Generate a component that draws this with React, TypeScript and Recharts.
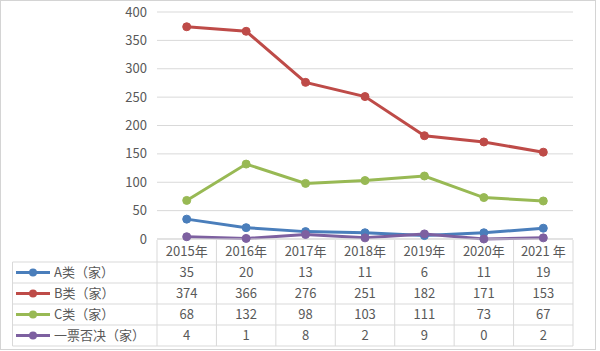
import React from 'react';
import { LineChart, Line, XAxis, YAxis, CartesianGrid } from 'recharts';

const categories = ['2015年', '2016年', '2017年', '2018年', '2019年', '2020年', '2021 年'];
const seriesNames = ['A类（家）', 'B类（家）', 'C类（家）', '一票否决（家）'];
const seriesA = [35, 20, 13, 11, 6, 11, 19];
const seriesB = [374, 366, 276, 251, 182, 171, 153];
const seriesC = [68, 132, 98, 103, 111, 73, 67];
const seriesD = [4, 1, 8, 2, 9, 0, 2];
const yTicks = [0, 50, 100, 150, 200, 250, 300, 350, 400];

const colors = ['#4a7ebb', '#be4b48', '#98b954', '#7d60a0'];
const keys = ['a', 'b', 'c', 'd'];
const allSeries = [seriesA, seriesB, seriesC, seriesD];

const data = categories.map((cat, i) => ({
  name: cat,
  a: seriesA[i],
  b: seriesB[i],
  c: seriesC[i],
  d: seriesD[i],
}));

const W = 600;
const H = 351;
const PLOT_LEFT = 157;
const PLOT_RIGHT = 573;
const PLOT_TOP = 12;
const PLOT_BOTTOM = 239;
const BAND = (PLOT_RIGHT - PLOT_LEFT) / categories.length;
const ROW_TOP = PLOT_BOTTOM + 1;
const HEADER_BOTTOM = 262;
const ROW_H = 21;
const TABLE_BOTTOM = HEADER_BOTTOM + ROW_H * 4;
const TABLE_LEFT = 12.5;
const GRID = '#d9d9d9';
const TXT = '#595959';
const FONT = '"Noto Sans CJK SC", "Noto Sans", sans-serif';

const TableTick = (props: any) => {
  const { x, payload } = props;
  const idx = payload?.index ?? props.index ?? 0;
  const right = x + BAND / 2;
  return (
    <g>
      {idx === 0 && (
        <g>
          <line x1={PLOT_LEFT} x2={PLOT_LEFT} y1={ROW_TOP} y2={TABLE_BOTTOM} stroke={GRID} />
          <line x1={TABLE_LEFT} x2={TABLE_LEFT} y1={HEADER_BOTTOM} y2={TABLE_BOTTOM} stroke={GRID} />
          {[0, 1, 2, 3, 4].map((r) => (
            <line
              key={r}
              x1={TABLE_LEFT}
              x2={PLOT_RIGHT}
              y1={HEADER_BOTTOM + r * ROW_H}
              y2={HEADER_BOTTOM + r * ROW_H}
              stroke={GRID}
            />
          ))}
          {seriesNames.map((n, r) => {
            const cy = HEADER_BOTTOM + r * ROW_H + ROW_H / 2;
            return (
              <g key={n}>
                <line x1={16} x2={50} y1={cy} y2={cy} stroke={colors[r]} strokeWidth={3} />
                <circle cx={33} cy={cy} r={4} fill={colors[r]} />
                <text x={54} y={cy} dy="0.36em" fontSize={13} fill={TXT} fontFamily={FONT} textAnchor="start">
                  {n}
                </text>
              </g>
            );
          })}
        </g>
      )}
      <line x1={right} x2={right} y1={ROW_TOP} y2={TABLE_BOTTOM} stroke={GRID} />
      <text
        x={x}
        y={(ROW_TOP + HEADER_BOTTOM) / 2}
        dy="0.36em"
        textAnchor="middle"
        fontSize={13}
        fill={TXT}
        fontFamily={FONT}
      >
        {payload.value}
      </text>
      {allSeries.map((s, r) => (
        <text
          key={r}
          x={x}
          y={HEADER_BOTTOM + r * ROW_H + ROW_H / 2}
          dy="0.36em"
          textAnchor="middle"
          fontSize={13}
          fill={TXT}
          fontFamily={FONT}
        >
          {s[idx]}
        </text>
      ))}
    </g>
  );
};

export default function App() {
  return (
    <div style={{ position: 'absolute', left: 0, top: 0, width: W, height: H, background: '#fff' }}>
      <svg width={W} height={H} style={{ position: 'absolute', left: 0, top: 0 }}>
        <rect x={0.5} y={0.5} width={595} height={349} fill="#fff" stroke="#d4d4d4" />
      </svg>
      <div style={{ position: 'absolute', left: 0, top: 0 }}>
        <LineChart
          width={W}
          height={H}
          data={data}
          margin={{ top: PLOT_TOP, right: W - PLOT_RIGHT, bottom: 0, left: 0 }}
        >
          <CartesianGrid vertical={false} stroke={GRID} strokeWidth={1} />
          <XAxis
            dataKey="name"
            axisLine={{ stroke: GRID }}
            tickLine={false}
            tickSize={0}
            tickMargin={0}
            interval={0}
            padding={{ left: BAND / 2, right: BAND / 2 }}
            height={H - PLOT_BOTTOM}
            tick={<TableTick />}
          />
          <YAxis
            width={PLOT_LEFT}
            domain={[0, 400]}
            ticks={yTicks}
            interval={0}
            axisLine={false}
            tickLine={false}
            tickSize={0}
            tickMargin={10}
            tick={{ fontSize: 13, fill: TXT, fontFamily: FONT }}
          />
          {keys.map((k, i) => (
            <Line
              key={k}
              dataKey={k}
              name={seriesNames[i]}
              stroke={colors[i]}
              strokeWidth={3}
              dot={{ r: 4, fill: colors[i], stroke: colors[i], strokeWidth: 1 }}
              isAnimationActive={false}
            />
          ))}
        </LineChart>
      </div>
    </div>
  );
}
